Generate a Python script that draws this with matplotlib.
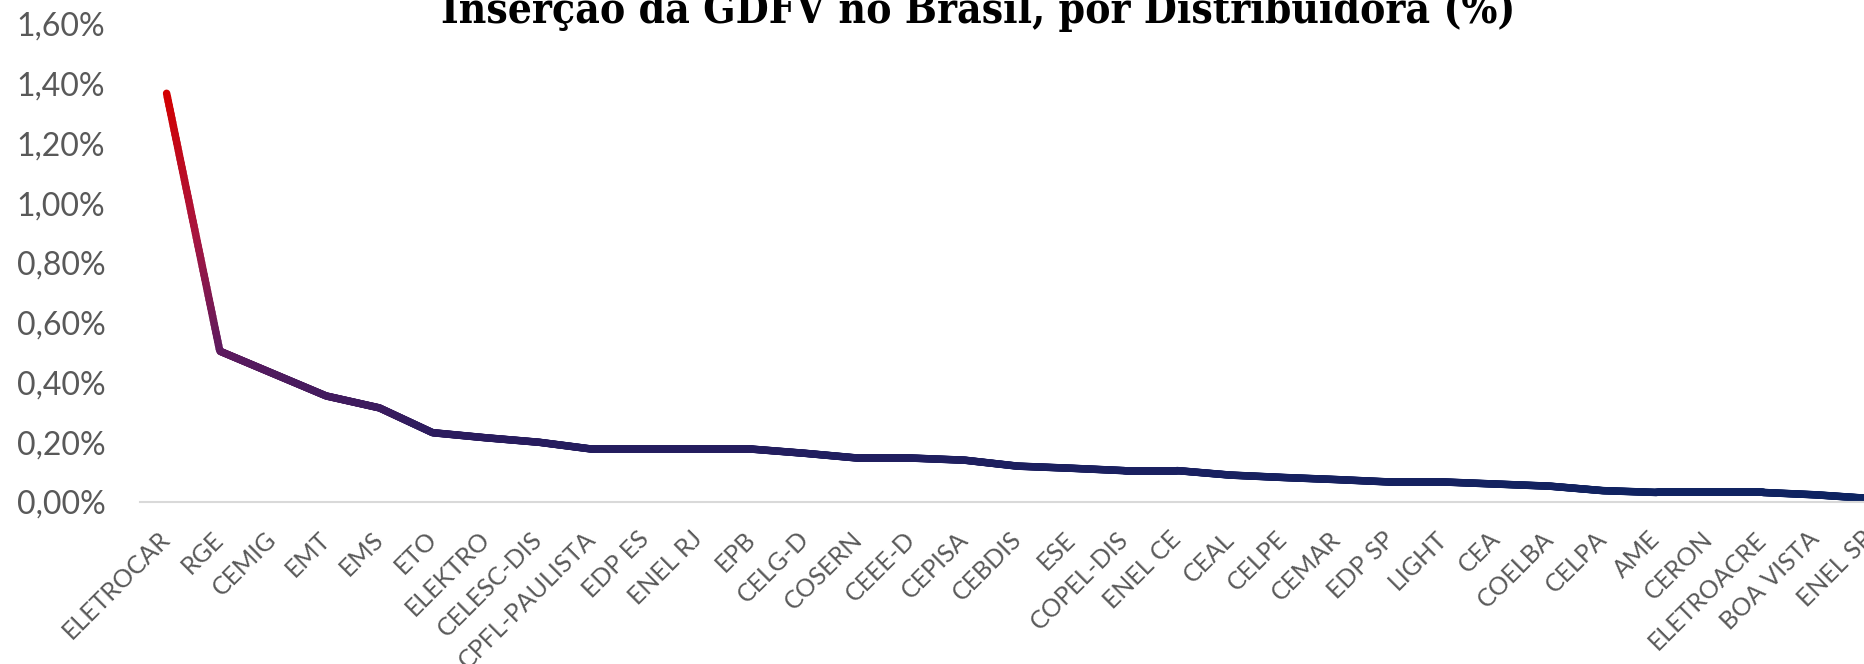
import matplotlib
matplotlib.use('Agg')
import matplotlib.pyplot as plt
import numpy as np
from matplotlib.collections import LineCollection
from matplotlib.colors import LinearSegmentedColormap
from matplotlib.ticker import FuncFormatter

# Inserção da GDFV por distribuidora (%)
distribuidoras = ['ELETROCAR', 'RGE', 'CEMIG', 'EMT', 'EMS', 'ETO', 'ELEKTRO',
                  'CELESC-DIS', 'CPFL-PAULISTA', 'EDP ES', 'ENEL RJ', 'EPB',
                  'CELG-D', 'COSERN', 'CEEE-D', 'CEPISA', 'CEBDIS', 'ESE',
                  'COPEL-DIS', 'ENEL CE', 'CEAL', 'CELPE', 'CEMAR', 'EDP SP',
                  'LIGHT', 'CEA', 'COELBA', 'CELPA', 'AME', 'CERON',
                  'ELETROACRE', 'BOA VISTA', 'ENEL SP']
insercao = [1.368, 0.505, 0.430, 0.355, 0.315, 0.232, 0.215, 0.200, 0.177,
            0.177, 0.177, 0.177, 0.163, 0.147, 0.147, 0.140, 0.120, 0.113,
            0.105, 0.105, 0.090, 0.082, 0.075, 0.067, 0.067, 0.060, 0.053,
            0.038, 0.032, 0.032, 0.032, 0.024, 0.012]
y_ticks = [0.0, 0.2, 0.4, 0.6, 0.8, 1.0, 1.2, 1.4, 1.6]
titulo = 'Inserção da GDFV no Brasil, por Distribuidora (%)'

W, H = 1865, 664
fig = plt.figure(figsize=(W / 100, H / 100), dpi=100)
fig.patch.set_facecolor('white')

# axes runs past the right edge: the reference is cropped there
ax = fig.add_axes([140 / W, (H - 502) / H, 1755.6 / W, (502 - 24) / H])

x = np.arange(len(distribuidoras))
y = np.array(insercao)

# gradient line, red at the top to navy at the bottom
cmap = LinearSegmentedColormap.from_list('gdfv', [
    (0.0, '#0c2461'),
    (0.15, '#281c5e'),
    (0.37, '#5e1a5e'),
    (0.65, '#a8153f'),
    (1.0, '#d40000'),
])
xs = np.linspace(0, len(x) - 1, 2000)
ys = np.interp(xs, x, y)
pts = np.column_stack([xs, ys]).reshape(-1, 1, 2)
segs = np.concatenate([pts[:-1], pts[1:]], axis=1)
lc = LineCollection(segs, cmap=cmap, norm=plt.Normalize(0, y.max()),
                    linewidth=5.4, capstyle='round', joinstyle='round')
lc.set_array((ys[:-1] + ys[1:]) / 2)
ax.add_collection(lc)

ax.set_xlim(-0.5, len(x) - 0.5)
ax.set_ylim(0, 1.6)
ax.set_yticks(y_ticks)
ax.yaxis.set_major_formatter(FuncFormatter(lambda v, p: f'{v:.2f}%'.replace('.', ',')))
ax.set_xticks(x)
ax.set_xticklabels(distribuidoras)

for s in ['top', 'right', 'left']:
    ax.spines[s].set_visible(False)
ax.spines['bottom'].set_color('#d9d9d9')
ax.spines['bottom'].set_linewidth(1.5)
ax.tick_params(axis='both', length=0, colors='#595959')
ax.tick_params(axis='y', labelsize=23, pad=25)
ax.tick_params(axis='x', labelsize=18, pad=24)
for lab in ax.get_yticklabels():
    lab.set_fontfamily('Lato')
for lab in ax.get_xticklabels():
    lab.set_fontfamily('Lato')
    lab.set_rotation(45)
    lab.set_ha('right')
    lab.set_va('center')
    lab.set_rotation_mode('anchor')

# title: fit its width to the reference (about 1070 px)
t = fig.text(978 / W, 1 - 22.7 / H, titulo, ha='center', va='baseline',
             fontsize=30, fontweight='bold', family='DejaVu Serif',
             fontstretch='condensed', color='black')
r = fig.canvas.get_renderer()
w = t.get_window_extent(renderer=r).width
t.set_fontsize(30 * 1070 / w)

fig.savefig('out.png', dpi=100)
